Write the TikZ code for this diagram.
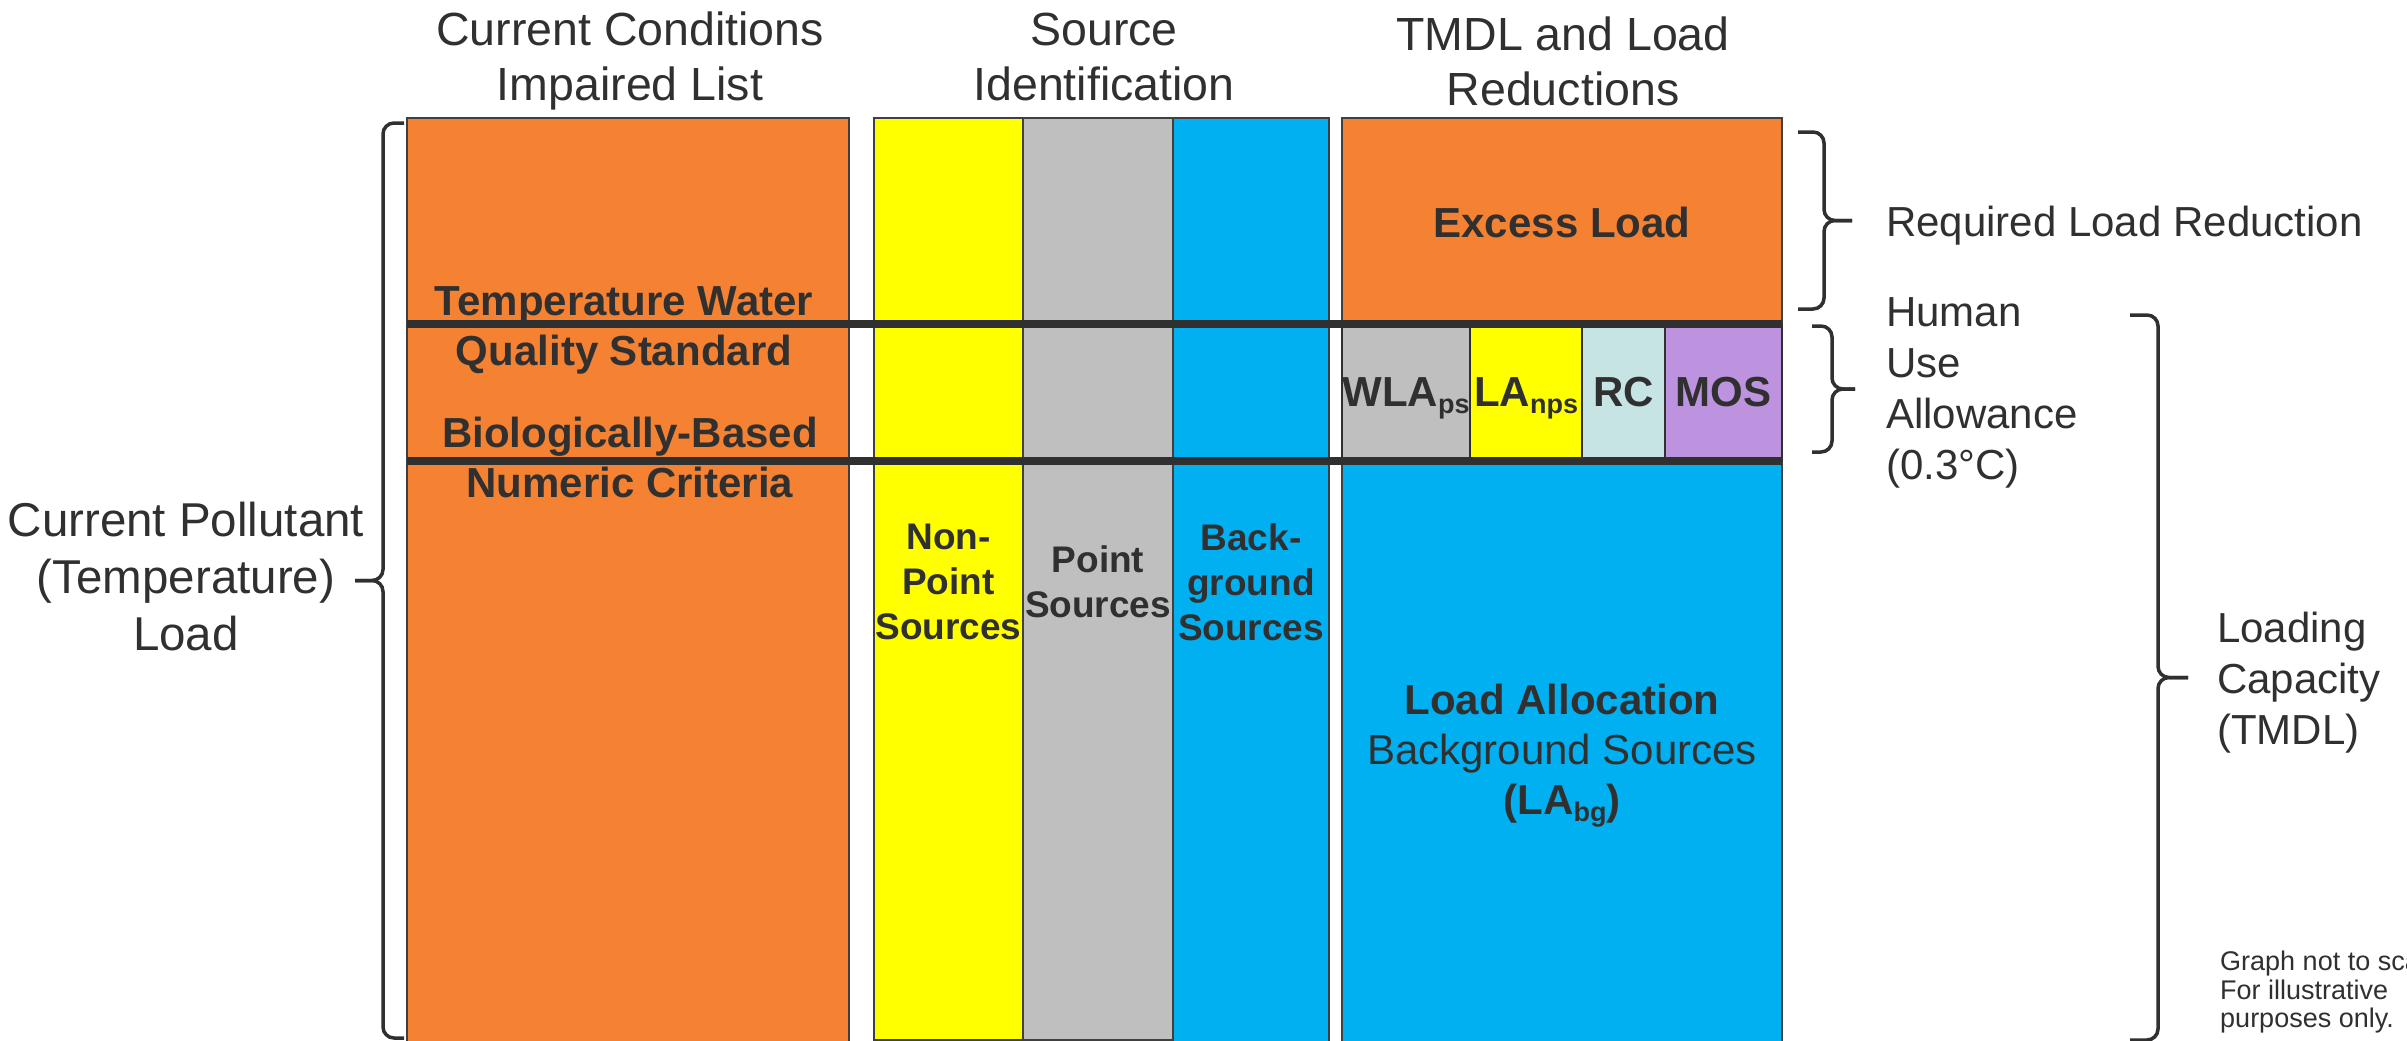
\documentclass[tikz,border=0pt]{standalone}
\usepackage{fontspec}
\setmainfont{Liberation Sans}

\definecolor{ink}{HTML}{303030}
\definecolor{edge}{HTML}{404040}
\definecolor{tmporange}{HTML}{F58232}
\definecolor{npsyellow}{HTML}{FFFF00}
\definecolor{psgrey}{HTML}{BFBFBF}
\definecolor{bgblue}{HTML}{00B0F0}
\definecolor{rccyan}{HTML}{C6E4E3}
\definecolor{mospurple}{HTML}{BD92DF}

\newcommand{\lowsub}[1]{\raisebox{-7pt}{\fontsize{27}{27}\selectfont #1}}
% hook x, spine x, tip x, top y, bottom y
\newcommand{\sidebrace}[5]{%
  \draw[brace line] (#1,#4) -- (#2,#4) -- (#2,{(#4+#5)/2}) -- (#3,{(#4+#5)/2});
  \draw[brace line] (#3,{(#4+#5)/2}) -- (#2,{(#4+#5)/2}) -- (#2,#5) -- (#1,#5);}

\begin{document}
\begin{tikzpicture}[x=1pt, y=-1pt,
  every node/.style={text=ink, inner sep=0pt},
  col/.style={draw=edge, line width=1.5pt},
  cell/.style={draw=ink, line width=2.5pt},
  bar/.style={draw=ink, line width=7.5pt},
  brace line/.style={draw=ink, line width=3.5pt, rounded corners=11pt},
  hdr/.style={font=\fontsize{46.5}{55}\selectfont, align=center},
  side/.style={font=\fontsize{42}{51}\selectfont, align=left},
  boxlbl/.style={font=\bfseries\fontsize{42}{50}\selectfont, align=center},
  srclbl/.style={font=\bfseries\fontsize{37}{45}\selectfont, align=center}]
\useasboundingbox (0,0) rectangle (2407,1041);
\clip (0,0) rectangle (2407,1041);

\draw[col, fill=tmporange] (407,118) rectangle (849,1043);
\draw[col, fill=npsyellow] (874,118) rectangle (1023,1040);
\draw[col, fill=psgrey]    (1023,118) rectangle (1173,1040);
\draw[col, fill=bgblue]    (1173,118) rectangle (1329,1043);
\draw[col, fill=tmporange] (1342,118) rectangle (1782,324);
\draw[col, fill=bgblue]    (1342,461) rectangle (1782,1043);
\draw[cell, fill=psgrey]    (1342,324) rectangle (1470,461);
\draw[cell, fill=npsyellow] (1470,324) rectangle (1582,461);
\draw[cell, fill=rccyan]    (1582,324) rectangle (1665,461);
\draw[cell, fill=mospurple] (1665,324) rectangle (1782,461);
\draw[bar] (407,324) -- (1782,324);
\draw[bar] (407,461) -- (1782,461);

\node[hdr] (hcur) at (630,61)  {Current Conditions\\Impaired List};
\node[hdr] (hsrc) at (1104,57) {Source\\Identification};
\node[hdr] (htmdl) at (1563,61) {TMDL and Load\\Reductions};

\node[boxlbl] (wqs) at (624,330) {Temperature Water\\Quality Standard};
\node[boxlbl] (bbnc) at (630,457) {Biologically-Based\\Numeric Criteria};

\node[srclbl] (nps) at (948.5,582) {Non-\\Point\\Sources};
\node[srclbl] (ps)  at (1098,582)  {Point\\Sources};
\node[srclbl] (bg)  at (1251,582)  {Back-\\ground\\Sources};

\node[boxlbl] (excess) at (1562,222) {Excess Load};
\node[boxlbl, anchor=base] (wla)   at (1406,406) {WLA\lowsub{ps}};
\node[boxlbl, anchor=base] (lanps) at (1526,406) {LA\lowsub{nps}};
\node[boxlbl, anchor=base] (rc)    at (1623.5,406) {RC};
\node[boxlbl, anchor=base] (mos)   at (1723.5,406) {MOS};
\node[boxlbl] (labg) at (1562,756)
  {Load Allocation\\\mdseries Background Sources\\(LA\lowsub{\bfseries bg})};

\node[hdr, font=\fontsize{47.5}{57}\selectfont] (curload) at (186,577)
  {Current Pollutant\\(Temperature)\\Load};
\node[side, anchor=base west] (reqred) at (1886,236) {Required Load Reduction};
\node[side, anchor=north west] (hua) at (1886,297) {Human\\Use\\Allowance\\(0.3°C)};
\node[side, anchor=north west] (lcap) at (2217,612) {Loading\\Capacity\\(TMDL)};
\node[font=\fontsize{27}{28.5}\selectfont, align=left, anchor=north west] (note)
  at (2220,951) {Graph not to scale.\\For illustrative\\purposes only.};

\sidebrace{404}{383}{355}{123}{1038}
\sidebrace{1798}{1824}{1852}{132}{309}
\sidebrace{1812}{1832}{1855}{326}{452}
\sidebrace{2130}{2158}{2188}{315}{1040}
\end{tikzpicture}
\end{document}
